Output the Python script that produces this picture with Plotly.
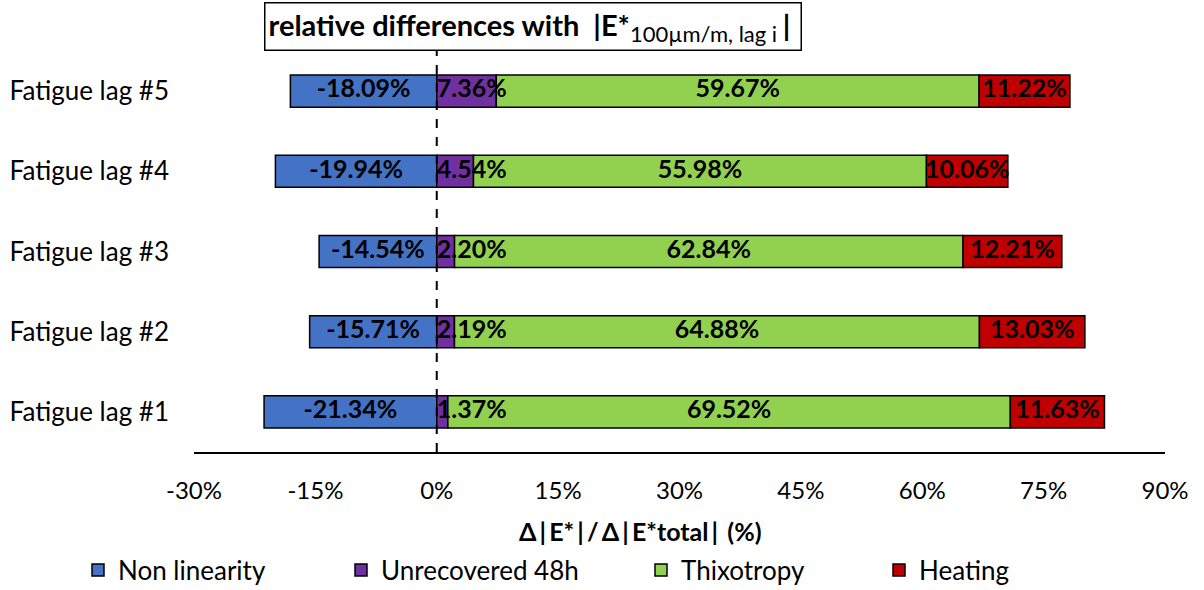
import plotly.graph_objects as go

categories = ["Fatigue lag #1", "Fatigue lag #2", "Fatigue lag #3", "Fatigue lag #4", "Fatigue lag #5"]
non_linearity = [-21.34, -15.71, -14.54, -19.94, -18.09]
unrecovered = [1.37, 2.19, 2.20, 4.54, 7.36]
thixotropy = [69.52, 64.88, 62.84, 55.98, 59.67]
heating = [11.63, 13.03, 12.21, 10.06, 11.22]
series_names = ["Non linearity", "Unrecovered 48h", "Thixotropy", "Heating"]
colors = ["#4472C4", "#7030A0", "#92D050", "#C00000"]
xticks = [-30, -15, 0, 15, 30, 45, 60, 75, 90]
xtick_labels = [f"{v}%" for v in xticks]

FONT = "Lato"
W, H = 1204, 590
L, R, T, B = 194, 39, 51, 138
LABEL_FONT = dict(family=FONT, size=25, color="black", weight="bold")

fig = go.Figure()
series = [non_linearity, unrecovered, thixotropy, heating]
legend_ids = ["legend", "legend2", "legend3", "legend4"]
for name, vals, col, lg in zip(series_names, series, colors, legend_ids):
    fig.add_trace(go.Bar(
        y=categories, x=vals, orientation="h", name=name,
        marker=dict(color=col, line=dict(color="black", width=1.5)),
        width=0.4, legend=lg,
    ))

# labels centred on their segments (positions derived from the data)
xs, ys, txt = [], [], []
for i, c in enumerate(categories):
    xs.append(non_linearity[i] / 2); ys.append(c); txt.append(f"{non_linearity[i]:.2f}%")
    base = unrecovered[i]
    for vals in (thixotropy, heating):
        xs.append(base + vals[i] / 2); ys.append(c); txt.append(f"{vals[i]:.2f}%")
        base += vals[i]
fig.add_trace(go.Scatter(
    x=xs, y=ys, text=txt, mode="text", showlegend=False, hoverinfo="skip",
    textfont=LABEL_FONT, cliponaxis=False,
))
# narrow purple segments: label starts at the segment's base (0)
fig.add_trace(go.Scatter(
    x=[0] * len(categories), y=categories, text=[f"{v:.2f}%" for v in unrecovered],
    mode="text", textposition="middle right", showlegend=False, hoverinfo="skip",
    textfont=LABEL_FONT, cliponaxis=False,
))

fig.add_shape(type="line", xref="x", yref="y domain", x0=0, x1=0, y0=0, y1=1.01,
              line=dict(color="black", width=2, dash="dash"))

def px_x(p):
    return (p - L) / (W - L - R)

def px_y(p):
    return (H - B - p) / (H - T - B)

fig.add_annotation(
    xref="paper", yref="paper", x=px_x(533), y=px_y(26.5), showarrow=False,
    xanchor="center", yanchor="middle",
    text=("<b>relative differences with  |E*</b><sub><span style='font-size:22px'>"
          "100µm/m, lag i </span></sub><b>| </b>"),
    font=dict(family=FONT, size=29, color="black"),
    bordercolor="black", borderwidth=1.5, borderpad=3, bgcolor="white",
)
fig.add_annotation(
    xref="paper", yref="paper", x=px_x(640), y=px_y(531), showarrow=False,
    xanchor="center", yanchor="middle",
    text="<b>Δ\u2009|\u2009E*\u2009|\u2009/\u2009Δ\u2009|\u2009E*total\u2009|\u2009 (%)</b>",
    font=dict(family=FONT, size=25, color="black"),
)

legend_x = [78, 341, 641, 879]
layout_legends = {}
for lg, lx in zip(legend_ids, legend_x):
    layout_legends[lg] = dict(
        x=px_x(lx), y=px_y(570), xanchor="left", yanchor="middle",
        orientation="h", font=dict(family=FONT, size=26, color="black"),
        bgcolor="rgba(0,0,0,0)", itemclick=False, itemdoubleclick=False,
    )

fig.update_layout(
    width=W, height=H, barmode="relative",
    margin=dict(l=L, r=R, t=T, b=B, autoexpand=False),
    plot_bgcolor="white", paper_bgcolor="white",
    font=dict(family=FONT, size=24, color="black"),
    xaxis=dict(range=[-30, 90], tickvals=xticks, ticktext=xtick_labels,
               showgrid=False, zeroline=False, showline=True, linecolor="black",
               linewidth=1.5, ticks="", ticklabelstandoff=16,
               tickfont=dict(family=FONT, size=24)),
    yaxis=dict(type="category", categoryorder="array", categoryarray=categories,
               showgrid=False, zeroline=False, showline=False, ticks="",
               ticklabelstandoff=24, tickfont=dict(family=FONT, size=26)),
    **layout_legends,
)

fig.write_html("out.html", config={"displayModeBar": False},
               post_script="document.body.style.margin='0';")
